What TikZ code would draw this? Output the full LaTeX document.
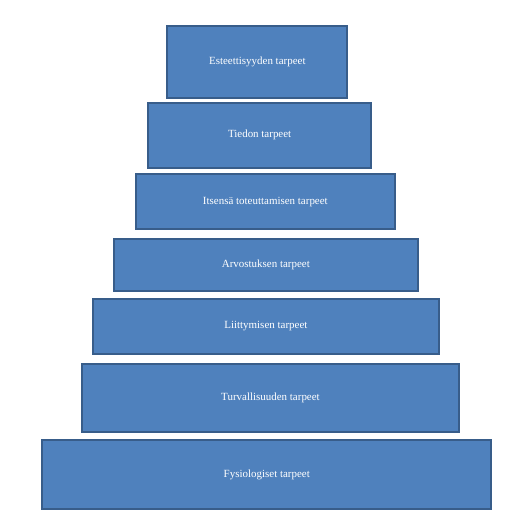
\documentclass[tikz,border=0pt]{standalone}
\usepackage{fontspec}
\setmainfont{Liberation Serif}
\definecolor{boxfill}{HTML}{4F81BD}
\definecolor{boxline}{HTML}{385D8A}
\begin{document}
\begin{tikzpicture}[x=1bp,y=1bp,
  level/.style={draw=boxline, fill=boxfill, line width=2bp, text=white,
    inner sep=0pt, font=\fontsize{11}{13}\selectfont}]
\useasboundingbox (0,0) rectangle (512,528);
\node[level, minimum width=180bp, minimum height=72.3bp] (b1) at (257.3,{528-61.85}) {Esteettisyyden tarpeet};
\node[level, minimum width=222.7bp, minimum height=65.3bp] (b2) at (259.65,{528-135.35}) {Tiedon tarpeet};
\node[level, minimum width=259.3bp, minimum height=55.3bp] (b3) at (265.35,{528-201.65}) {Itsensä toteuttamisen tarpeet};
\node[level, minimum width=304.3bp, minimum height=52.3bp] (b4) at (265.85,{528-264.85}) {Arvostuksen tarpeet};
\node[level, minimum width=346.3bp, minimum height=55.3bp] (b5) at (265.85,{528-326.35}) {Liittymisen tarpeet};
\node[level, minimum width=377.6bp, minimum height=68.3bp] (b6) at (270.5,{528-397.85}) {Turvallisuuden tarpeet};
\node[level, minimum width=449bp, minimum height=68.7bp] (b7) at (266.8,{528-474.65}) {Fysiologiset tarpeet};
\end{tikzpicture}
\end{document}
